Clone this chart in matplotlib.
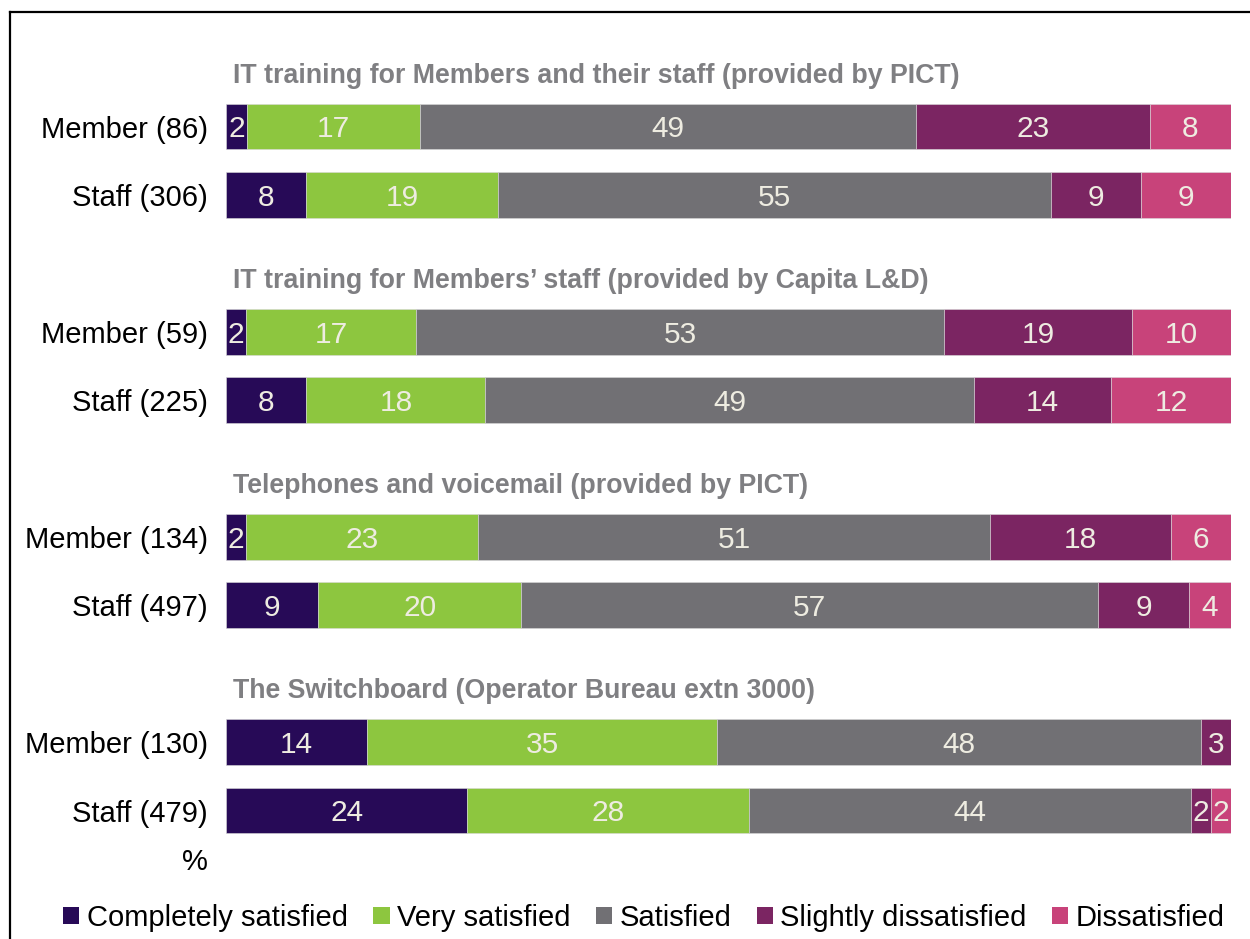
import matplotlib
matplotlib.use("Agg")
import matplotlib.pyplot as plt
from matplotlib.patches import Patch
from matplotlib.lines import Line2D
import numpy as np

plt.rcParams['font.family'] = ['Liberation Sans', 'DejaVu Sans']

# survey satisfaction, % per respondent group
group_titles = ["IT training for Members and their staff (provided by PICT)",
                "IT training for Members\u2019 staff (provided by Capita L&D)",
                "Telephones and voicemail (provided by PICT)",
                "The Switchboard (Operator Bureau extn 3000)"]

row_labels = ["Member (86)", "Staff (306)",
              "Member (59)", "Staff (225)",
              "Member (134)", "Staff (497)",
              "Member (130)", "Staff (479)"]

categories = ["Completely satisfied", "Very satisfied", "Satisfied",
              "Slightly dissatisfied", "Dissatisfied"]

completely = [2.1, 8.0, 2.0, 8.0, 2.0, 9.2, 14.0, 24.0]
very = [17.2, 19.1, 16.9, 17.8, 23.1, 20.2, 34.9, 28.0]
satisfied = [49.4, 55.0, 52.55, 48.6, 50.9, 57.4, 48.1, 44.0]
slightly = [23.2, 8.95, 18.7, 13.7, 18.0, 9.0, 3.0, 2.0]
dissatisfied = [8.1, 8.95, 9.85, 11.9, 6.0, 4.2, 0.0, 2.0]

colors = ["#270a57", "#8dc63f", "#717074", "#7b2562", "#c8437a"]

series = [completely, very, satisfied, slightly, dissatisfied]

# row positions: 2 rows per group, one empty slot between groups
ypos = []
for g in range(len(group_titles)):
    ypos += [g * 3, g * 3 + 1]
ypos = np.array(ypos, dtype=float)

fig = plt.figure(figsize=(12.5, 9.39), dpi=100)
ax = fig.add_axes([226 / 1250, 1 - 880 / 939, 1005 / 1250, 860 / 939])

left = np.zeros(len(row_labels))
for vals, col, name in zip(series, colors, categories):
    vals = np.array(vals)
    ax.barh(ypos, vals, left=left, height=0.67, color=col,
            edgecolor="#d9d9d9", linewidth=0.4, label=name)
    for y, l, v in zip(ypos, left, vals):
        if v > 0:
            # baseline shifted down so the digits sit in the middle of the bar
            ax.text(l + v / 2, y + 0.16, "%.0f" % v, ha="center", va="baseline",
                    fontsize=21.5, color="#eeece1")
    left += vals

for g, t in enumerate(group_titles):
    ax.text(0.007, g * 3 - 0.74, t, transform=ax.get_yaxis_transform(),
            ha="left", va="center", fontsize=19.3, fontweight="bold",
            color="#7f7f82")

ax.set_xlim(0, 100)
ax.set_ylim((880 - 126.5) / 68.4, (20 - 126.5) / 68.4)
ax.set_yticks(ypos)
ax.set_yticklabels(row_labels, fontsize=21)
ax.tick_params(axis="y", length=0, pad=13)
ax.set_xticks([])
for s in ax.spines.values():
    s.set_visible(False)

ax.text(-0.0179, (862 - 126.5) / 68.4, "%", transform=ax.get_yaxis_transform(),
        ha="right", va="center", fontsize=21)

handles = [Patch(facecolor=c, edgecolor="none", label=n)
           for c, n in zip(colors, categories)]
fig.legend(handles=handles, loc="center", ncol=5,
           bbox_to_anchor=(644 / 1250, 1 - 918 / 939), frameon=False,
           fontsize=21, handlelength=0.55, handleheight=0.55,
           handletextpad=0.25, columnspacing=0.88, borderaxespad=0)

# frame lines of the original slide box
fig.add_artist(Line2D([10 / 1250, 1], [1 - 12 / 939, 1 - 12 / 939],
                      color="black", lw=1.6))
fig.add_artist(Line2D([10 / 1250, 10 / 1250], [0, 1 - 12 / 939],
                      color="black", lw=1.6))

fig.savefig("out.png", dpi=100)
